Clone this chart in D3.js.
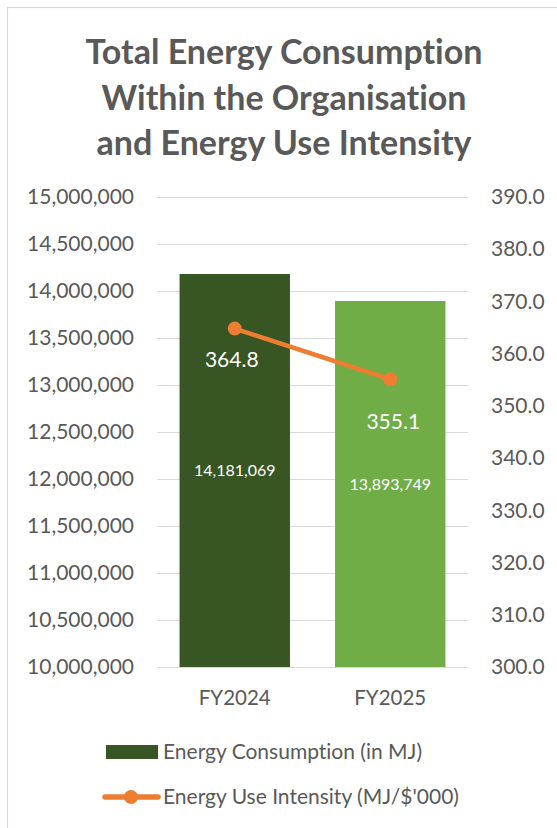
<!DOCTYPE html>
<html>
<head>
<meta charset="utf-8">
<script src="https://cdn.jsdelivr.net/npm/d3@7"></script>
<style>
  html, body { margin: 0; padding: 0; background: #fff; }
  svg { display: block; font-family: Lato, "Open Sans", sans-serif; font-variant-ligatures: none; }
</style>
</head>
<body>
<svg id="chart" width="557" height="828"></svg>
<script>
// data
const years = ["FY2024", "FY2025"];
const energyMJ = [14181069, 13893749];
const intensity = [364.8, 355.1];
const barColors = ["#375623", "#70AD47"];
const titleLines = ["Total Energy Consumption", "Within the Organisation", "and Energy Use Intensity"];
const leftTicks = [10000000, 10500000, 11000000, 11500000, 12000000, 12500000, 13000000, 13500000, 14000000, 14500000, 15000000];
const rightTicks = [300, 310, 320, 330, 340, 350, 360, 370, 380, 390];
const legendLabels = ["Energy Consumption (in MJ)", "Energy Use Intensity (MJ/$'000)"];

(function () {
    const TEXT = "#595959";
    const GRID = "#D9D9D9";
    const ORANGE = "#ED7D31";

    const svg = d3.select("#chart");
    const plot = { left: 157, right: 468, top: 197, bottom: 667 };

    // chart frame (only top/left visible in the crop)
    svg.append("rect")
        .attr("x", 7.5).attr("y", 7.5)
        .attr("width", 700).attr("height", 1000)
        .attr("fill", "none")
        .attr("stroke", GRID)
        .attr("stroke-width", 1.2);

    // title
    svg.append("text")
        .attr("x", 284)
        .attr("text-anchor", "middle")
        .attr("fill", TEXT)
        .style("font-size", "34px")
        .style("font-weight", "bold")
        .selectAll("tspan")
        .data(titleLines)
        .enter().append("tspan")
        .attr("x", 284)
        .attr("y", (d, i) => 64 + i * 45.5)
        .text(d => d);

    const x = d3.scaleBand()
        .domain(years)
        .range([plot.left, plot.right])
        .paddingInner(0.29)
        .paddingOuter(0.145);

    const yLeft = d3.scaleLinear()
        .domain([10000000, 15000000])
        .range([plot.bottom, plot.top]);

    const yRight = d3.scaleLinear()
        .domain([300, 390])
        .range([plot.bottom, plot.top]);

    // gridlines
    svg.append("g")
        .selectAll("line")
        .data(leftTicks)
        .enter().append("line")
        .attr("x1", plot.left).attr("x2", plot.right)
        .attr("y1", d => Math.round(yLeft(d)) + 0.5)
        .attr("y2", d => Math.round(yLeft(d)) + 0.5)
        .attr("stroke", GRID)
        .attr("stroke-width", 1);

    // left axis
    const leftAxis = svg.append("g")
        .attr("transform", `translate(${plot.left - 23},0)`)
        .call(d3.axisLeft(yLeft).tickValues(leftTicks).tickFormat(d3.format(",")).tickSize(0).tickPadding(0));
    leftAxis.select(".domain").remove();
    leftAxis.selectAll("text")
        .attr("fill", TEXT)
        .style("font-size", "21px")
        .style("font-family", "Lato, sans-serif");

    // right axis
    const rightAxis = svg.append("g")
        .attr("transform", `translate(${plot.right + 23},0)`)
        .call(d3.axisRight(yRight).tickValues(rightTicks).tickFormat(d3.format(".1f")).tickSize(0).tickPadding(0));
    rightAxis.select(".domain").remove();
    rightAxis.selectAll("text")
        .attr("fill", TEXT)
        .style("font-size", "21px")
        .style("font-family", "Lato, sans-serif");

    // category axis
    const xAxis = svg.append("g")
        .attr("transform", `translate(0,${plot.bottom})`)
        .call(d3.axisBottom(x).tickSize(0).tickPadding(0));
    xAxis.select(".domain").remove();
    xAxis.selectAll("text")
        .attr("dy", 38)
        .attr("y", 0)
        .attr("fill", TEXT)
        .style("font-size", "20.5px")
        .style("font-family", "Lato, sans-serif");

    // bars
    svg.append("g")
        .selectAll("rect")
        .data(energyMJ)
        .enter().append("rect")
        .attr("x", (d, i) => x(years[i]))
        .attr("width", x.bandwidth())
        .attr("y", d => yLeft(d))
        .attr("height", d => plot.bottom - yLeft(d))
        .attr("fill", (d, i) => barColors[i]);

    // bar value labels (centered in bar)
    svg.append("g")
        .selectAll("text")
        .data(energyMJ)
        .enter().append("text")
        .attr("x", (d, i) => x(years[i]) + x.bandwidth() / 2)
        .attr("y", d => (yLeft(d) + plot.bottom) / 2)
        .attr("dy", "0.35em")
        .attr("text-anchor", "middle")
        .attr("fill", "#fff")
        .style("font-size", "16px")
        .text(d => d3.format(",")(d));

    // intensity line
    const cx = (d, i) => x(years[i]) + x.bandwidth() / 2;
    const line = d3.line()
        .x((d, i) => cx(d, i))
        .y(d => yRight(d));

    svg.append("path")
        .datum(intensity)
        .attr("d", line)
        .attr("fill", "none")
        .attr("stroke", ORANGE)
        .attr("stroke-width", 4.5)
        .attr("stroke-linecap", "round");

    svg.append("g")
        .selectAll("circle")
        .data(intensity)
        .enter().append("circle")
        .attr("cx", cx)
        .attr("cy", d => yRight(d))
        .attr("r", 7)
        .attr("fill", ORANGE);

    const lineLabelDy = [38, 50];
    svg.append("g")
        .selectAll("text")
        .data(intensity)
        .enter().append("text")
        .attr("x", (d, i) => cx(d, i) + (i === 0 ? -3 : 3))
        .attr("y", (d, i) => yRight(d) + lineLabelDy[i])
        .attr("text-anchor", "middle")
        .attr("fill", "#fff")
        .style("font-size", "21px")
        .text(d => d3.format(".1f")(d));

    // legend
    const legend = svg.append("g").attr("fill", TEXT).style("font-size", "21px");
    legend.append("rect")
        .attr("x", 106).attr("y", 745)
        .attr("width", 52).attr("height", 14)
        .attr("fill", barColors[0]);
    legend.append("line")
        .attr("x1", 105).attr("x2", 158)
        .attr("y1", 797).attr("y2", 797)
        .attr("stroke", ORANGE)
        .attr("stroke-width", 5.5)
        .attr("stroke-linecap", "round");
    legend.append("circle")
        .attr("cx", 131).attr("cy", 797).attr("r", 7)
        .attr("fill", ORANGE);
    legend.selectAll("text")
        .data(legendLabels)
        .enter().append("text")
        .attr("x", 163)
        .attr("y", (d, i) => 759 + i * 45)
        .text(d => d);
})();
</script>
</body>
</html>
